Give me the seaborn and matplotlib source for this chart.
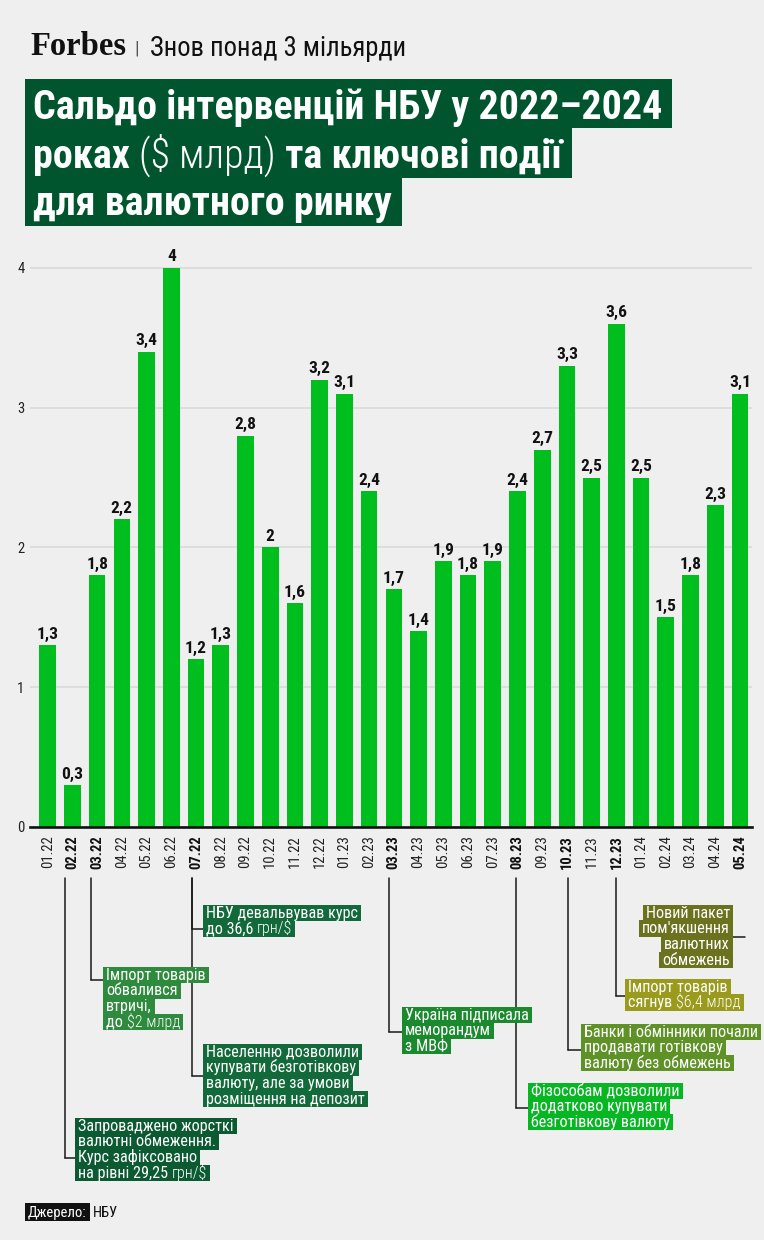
import matplotlib
matplotlib.use("Agg")
import matplotlib.pyplot as plt
import seaborn as sns
import pandas as pd
from matplotlib.patches import Rectangle
from matplotlib.lines import Line2D
from matplotlib.transforms import IdentityTransform

# ---------------- data ----------------
months = ["01.22", "02.22", "03.22", "04.22", "05.22", "06.22", "07.22", "08.22",
          "09.22", "10.22", "11.22", "12.22", "01.23", "02.23", "03.23", "04.23",
          "05.23", "06.23", "07.23", "08.23", "09.23", "10.23", "11.23", "12.23",
          "01.24", "02.24", "03.24", "04.24", "05.24"]
values = [1.3, 0.3, 1.8, 2.2, 3.4, 4.0, 1.2, 1.3, 2.8, 2.0, 1.6, 3.2,
          3.1, 2.4, 1.7, 1.4, 1.9, 1.8, 1.9, 2.4, 2.7, 3.3, 2.5, 3.6,
          2.5, 1.5, 1.8, 2.3, 3.1]
highlight_months = ["02.22", "03.22", "07.22", "03.23", "08.23", "10.23", "12.23", "05.24"]
y_ticks = [0, 1, 2, 3, 4]

event_months = ["02.22", "03.22", "07.22", "07.22", "03.23", "08.23", "10.23", "12.23", "05.24"]
# each line: list of (text, light?) segments
event_texts = [
    [[("Запроваджено жорсткі", 0)], [("валютні обмеження.", 0)], [("Курс зафіксовано", 0)],
     [("на рівні 29,25 ", 0), ("грн/$", 1)]],
    [[("Імпорт товарів", 0)], [("обвалився", 0)], [("втричі,", 0)], [("до ", 0), ("$2 млрд", 1)]],
    [[("НБУ девальвував курс", 0)], [("до 36,6 ", 0), ("грн/$", 1)]],
    [[("Населенню дозволили", 0)], [("купувати безготівкову", 0)], [("валюту, але за умови", 0)],
     [("розміщення на депозит", 0)]],
    [[("Україна підписала", 0)], [("меморандум", 0)], [("з МВФ", 0)]],
    [[("Фізособам дозволили", 0)], [("додатково купувати", 0)], [("безготівкову валюту", 0)]],
    [[("Банки і обмінники почали", 0)], [("продавати готівкову", 0)], [("валюту без обмежень", 0)]],
    [[("Імпорт товарів", 0)], [("сягнув ", 0), ("$6,4 млрд", 1)]],
    [[("Новий пакет", 0)], [("пом'якшення", 0)], [("валютних", 0)], [("обмежень", 0)]],
]
event_colors = ["#0B5A32", "#2E8A3C", "#12693A", "#12693A", "#1B8A2E",
                "#07B623", "#5E9226", "#9A9A1C", "#6A721E"]

title_lines = [[("Сальдо інтервенцій НБУ у 2022–2024", "bold")],
               [("роках ", "bold"), ("($ млрд)", "light"), (" та ключові події", "bold")],
               [("для валютного ринку", "bold")]]
subtitle = "Знов понад 3 мільярди"
source_label = "Джерело:"
source_value = "НБУ"

# ---------------- layout / style ----------------
W, H = 764, 1240
BG = "#EFEFEF"
BAR = "#00BE1E"
TITLE_BG = "#00552F"
COND = ["Roboto Condensed", "DejaVu Sans"]

sns.set_theme(style="white")
plt.rcParams["font.family"] = COND

fig = plt.figure(figsize=(W / 100, H / 100), dpi=100, facecolor=BG)
ID = IdentityTransform()


def px(x, y):
    return x, H - y


ax_left, ax_right, ax_bottom, ax_top = 30, 752, 827, 254
ax = fig.add_axes([ax_left / W, 1 - ax_bottom / H, (ax_right - ax_left) / W,
                   (ax_bottom - ax_top) / H])
ax.set_facecolor(BG)

df = pd.DataFrame({"month": months, "value": values})
sns.barplot(data=df, x="month", y="value", color=BAR, saturation=1, width=0.675,
            errorbar=None, ax=ax, order=months, linewidth=0)

step = 24.73
ax.set_xlim(-(47.7 - ax_left) / step, len(months) - 1 + (ax_right - 740) / step)
ax.set_ylim(0, (ax_bottom - ax_top) / 139.8)

labels = [f"{v:g}".replace(".", ",") for v in values]
ax.bar_label(ax.containers[0], labels=labels, padding=2.5, fontsize=12.5,
             fontweight="bold", color="#111111")

ax.set_yticks(y_ticks)
ax.set_yticklabels([str(t) for t in y_ticks], fontsize=10.5, color="#222222")
ax.set_xticks(range(len(months)))
ax.set_xticklabels(months, rotation=90, fontsize=10.5, color="#222222")
for lab in ax.get_xticklabels():
    if lab.get_text() in highlight_months:
        lab.set_fontweight("bold")
        lab.set_color("#111111")
ax.tick_params(axis="x", length=0, pad=6)
ax.tick_params(axis="y", length=0, pad=4)
ax.set_xlabel("")
ax.set_ylabel("")
ax.yaxis.grid(True, color="#DADADA", lw=1.2)
ax.xaxis.grid(False)
ax.set_axisbelow(True)
for s in ["top", "right", "left"]:
    ax.spines[s].set_visible(False)
ax.spines["bottom"].set_color("#111111")
ax.spines["bottom"].set_linewidth(1.9)

renderer = fig.canvas.get_renderer()


def text_px(x, y, s, **kw):
    t = fig.text(*px(x, y), s, transform=ID, **kw)
    return t, t.get_window_extent(renderer).width


# ---------------- header ----------------
t, w = text_px(30, 55, "Forbes", family=["Liberation Serif", "DejaVu Serif"],
               fontweight="bold", fontsize=22, color="#111111")
t.set_fontsize(22 * 96 / w)
text_px(134, 54, "|", fontsize=14, color="#555555")
t, w = text_px(150, 56, subtitle, fontsize=20, color="#111111")
t.set_fontsize(20 * 256 / w)

# ---------------- title ----------------
box_tops = [79, 128, 178]
box_bottoms = [128, 178, 226]
baselines = [119, 168, 215]
probe, pw = text_px(0, -100, title_lines[0][0][0], fontsize=30, fontweight="bold")
title_fs = 30 * 629 / pw
probe.remove()
for segs, top, bot, base in zip(title_lines, box_tops, box_bottoms, baselines):
    x = 33
    for s, wt in segs:
        t, w = text_px(x, base, s, fontsize=title_fs, fontweight=wt, color="white", zorder=5)
        x += w
    fig.add_artist(Rectangle(px(25, bot), x + 10 - 25, bot - top, transform=ID,
                             facecolor=TITLE_BG, edgecolor="none", zorder=4))

# ---------------- events ----------------
# (x offset in category units, box x, first line top, connector y, side)
event_layout = [
    (-0.30, 75, 1118, 1158, "left"),
    (-0.25, 103, 967, 980, "left"),
    (-0.17, 203, 905, 929, "left"),
    (-0.17, 203, 1044, 1076, "left"),
    (-0.20, 402, 1007, 1032, "left"),
    (-0.06, 528, 1083, 1108, "left"),
    (0.04, 581, 1024, 1050, "left"),
    (0.00, 625, 979, 996, "left"),
    (0.20, 733, 905, 937, "right"),
]
LH = 15.7
EV_FS = 11.6
LINE_C = "#1A1A1A"


def weight(light):
    return 300 if light else 400


def draw_segments(x, base, segs):
    total = 0
    for s, light in segs:
        t, w = text_px(x + total, base, s, fontsize=EV_FS, color="white", zorder=6,
                       fontweight=weight(light))
        total += w
    return total


def measure(segs):
    total = 0
    for s, light in segs:
        t, w = text_px(0, -200, s, fontsize=EV_FS, fontweight=weight(light))
        t.remove()
        total += w
    return total


for m, lines, col, (dx, bx, top, cy, side) in zip(event_months, event_texts,
                                                    event_colors, event_layout):
    xi = months.index(m) + dx
    xc = ax.transData.transform((xi, 0))[0]
    if side == "left":
        fig.add_artist(Line2D([xc, xc], [H - 878, H - cy], transform=ID,
                              color=LINE_C, lw=1.1, zorder=2))
        fig.add_artist(Line2D([xc, bx], [H - cy, H - cy], transform=ID,
                              color=LINE_C, lw=1.1, zorder=2))
    else:
        fig.add_artist(Line2D([bx, xc], [H - cy, H - cy], transform=ID,
                              color=LINE_C, lw=1.1, zorder=2))
    for i, segs in enumerate(lines):
        ltop = top + i * LH
        base = ltop + 12.7
        w = measure(segs)
        x0 = bx if side == "left" else bx - w - 6
        draw_segments(x0 + 3, base, segs)
        fig.add_artist(Rectangle(px(x0, ltop + LH + 0.3), w + 6, LH + 0.6, transform=ID,
                                 facecolor=col, edgecolor="none", zorder=5))

# ---------------- footer ----------------
t, w = text_px(28, 1217, source_label, fontsize=10.5, color="white", zorder=6)
fig.add_artist(Rectangle(px(25, 1221), w + 6, 18, transform=ID,
                         facecolor="#111111", edgecolor="none", zorder=5))
text_px(25 + w + 9, 1217, source_value, fontsize=10.5, color="#111111")

fig.savefig("out.png", dpi=100, facecolor=BG)
